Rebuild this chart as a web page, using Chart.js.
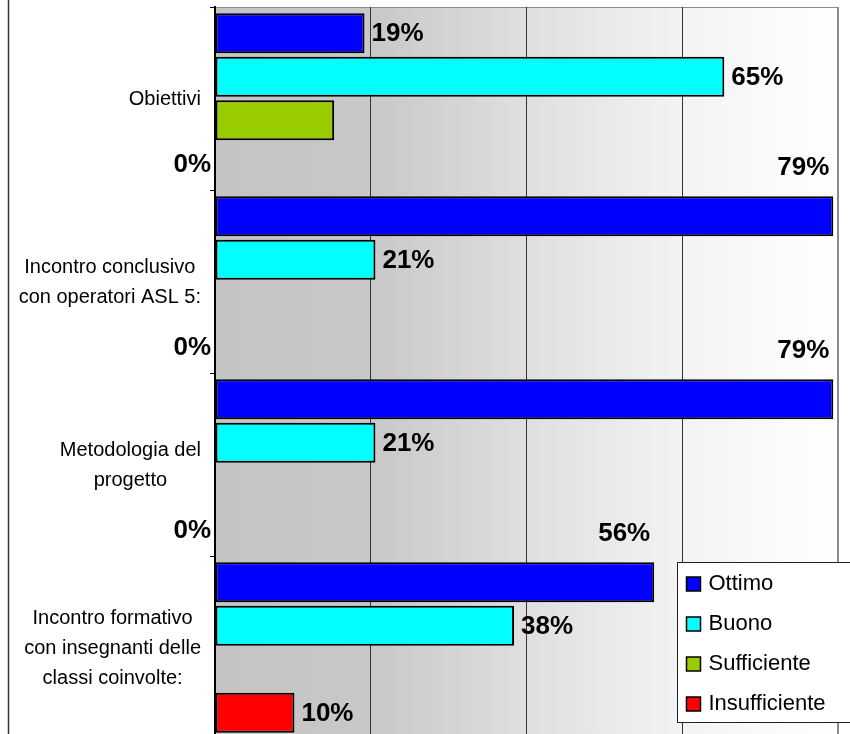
<!DOCTYPE html>
<html lang="it">
<head>
<meta charset="utf-8">
<title>Valutazione incontri</title>
<script src="https://cdn.jsdelivr.net/npm/chart.js@4.4.1/dist/chart.umd.min.js"></script>
<style>
  html, body { margin: 0; padding: 0; background: #fff; overflow: hidden; }
  #wrap { width: 850px; height: 745px; }
</style>
</head>
<body>
<div id="wrap"><canvas id="grafico" width="850" height="745"></canvas></div>
<script>
// categorie (dall'alto verso il basso), righe multiple per ogni etichetta
const categorie = [
  ['Obiettivi'],
  ['Incontro conclusivo', 'con operatori ASL 5:'],
  ['Metodologia del', 'progetto'],
  ['Incontro formativo', 'con insegnanti delle', 'classi coinvolte:']
]

// valori in percentuale (stimati dalla lunghezza delle barre, le etichette li arrotondano)
const ottimo = [19.2, 79.4, 79.4, 56.4]
const buono = [65.4, 20.6, 20.6, 38.4]
const sufficiente = [15.3, 0, 0, 0]
const insufficiente = [0, 0, 0, 10.2]

const asseMax = 80
const asseStep = 20

const FONT = '"Liberation Sans", Arial, sans-serif'
Chart.defaults.font.family = FONT

const fondoPlugin = {
  id: 'fondo',
  beforeDraw(chart) {
    const { ctx, chartArea: a } = chart
    const g = ctx.createLinearGradient(a.left, 0, a.right, 0)
    g.addColorStop(0, '#c4c4c4')
    g.addColorStop(0.25, '#c8c8c8')
    g.addColorStop(0.5, '#dfdfdf')
    g.addColorStop(0.75, '#f3f3f3')
    g.addColorStop(1, '#ffffff')
    ctx.save()
    ctx.fillStyle = g
    ctx.fillRect(a.left, a.top, a.right - a.left, a.bottom - a.top)
    ctx.strokeStyle = '#8c8c8c'
    ctx.lineWidth = 1
    ctx.beginPath()
    ctx.moveTo(a.left, a.top + 0.5)
    ctx.lineTo(a.right, a.top + 0.5)
    ctx.stroke()
    // bordo esterno del grafico a sinistra
    ctx.strokeStyle = '#333'
    ctx.lineWidth = 1.5
    ctx.beginPath()
    ctx.moveTo(8.5, 0)
    ctx.lineTo(8.5, chart.height)
    ctx.stroke()
    ctx.restore()
  }
}

const etichettePlugin = {
  id: 'etichette',
  afterDatasetsDraw(chart) {
    const { ctx, chartArea: a } = chart
    ctx.save()
    ctx.font = 'bold 26px ' + FONT
    ctx.fillStyle = '#000'
    ctx.textBaseline = 'middle'
    chart.data.datasets.forEach((ds, i) => {
      if (ds.label === 'Sufficiente') return
      chart.getDatasetMeta(i).data.forEach((bar, j) => {
        const v = ds.data[j]
        const txt = Math.round(v) + '%'
        if (v === 0) {
          ctx.textAlign = 'right'
          ctx.fillText(txt, a.left - 4, bar.y + 1)
        } else if (i === 0 && v > 50) {
          ctx.textAlign = 'right'
          ctx.fillText(txt, bar.x - 4, bar.y - 48)
        } else {
          ctx.textAlign = 'left'
          ctx.fillText(txt, bar.x + 7, bar.y + 1)
        }
      })
    })
    ctx.restore()
  }
}

const categoriePlugin = {
  id: 'categorie',
  afterDraw(chart) {
    const { ctx, chartArea: a } = chart
    const scalaY = chart.scales.y
    ctx.save()
    ctx.font = '20px ' + FONT
    ctx.fillStyle = '#000'
    ctx.textAlign = 'center'
    ctx.textBaseline = 'middle'
    chart.data.labels.forEach((righe, i) => {
      const larg = Math.max(...righe.map(r => ctx.measureText(r).width))
      const cx = a.left - 14 - larg / 2
      const cy = scalaY.getPixelForValue(i)
      righe.forEach((r, k) => {
        ctx.fillText(r, cx, cy + (k - (righe.length - 1) / 2) * 30 + 1)
      })
    })
    ctx.restore()
  }
}

const legendaPlugin = {
  id: 'legenda',
  afterDraw(chart) {
    const { ctx, chartArea: a } = chart
    const x0 = Math.round(a.right - 161) + 0.5
    const y0 = Math.round(a.bottom - 177) + 0.5
    ctx.save()
    ctx.fillStyle = '#fff'
    ctx.fillRect(x0, y0, 200, 160)
    ctx.strokeStyle = '#222'
    ctx.lineWidth = 1
    ctx.strokeRect(x0, y0, 200, 160)
    ctx.font = '22px ' + FONT
    ctx.textBaseline = 'middle'
    ctx.textAlign = 'left'
    chart.data.datasets.forEach((ds, i) => {
      const cy = y0 + 21 + i * 40
      ctx.fillStyle = ds.backgroundColor
      ctx.fillRect(x0 + 9, cy - 6.5, 14, 14)
      ctx.strokeStyle = '#000'
      ctx.lineWidth = 1.5
      ctx.strokeRect(x0 + 9, cy - 6.5, 14, 14)
      ctx.fillStyle = '#000'
      ctx.fillText(ds.label, x0 + 31, cy)
    })
    ctx.restore()
  }
}

const serie = [
  { label: 'Ottimo', data: ottimo, backgroundColor: '#0000ff' },
  { label: 'Buono', data: buono, backgroundColor: '#00ffff' },
  { label: 'Sufficiente', data: sufficiente, backgroundColor: '#99cc00' },
  { label: 'Insufficiente', data: insufficiente, backgroundColor: '#ff0000' }
]

new Chart(document.getElementById('grafico').getContext('2d'), {
  type: 'bar',
  data: {
    labels: categorie,
    datasets: serie.map(s => ({
      ...s,
      borderColor: '#000',
      borderWidth: 2,
      borderSkipped: false,
      barPercentage: 0.92,
      categoryPercentage: 0.95
    }))
  },
  options: {
    indexAxis: 'y',
    responsive: false,
    animation: false,
    layout: { padding: { top: 7, right: 12, bottom: 6, left: 0 } },
    plugins: {
      legend: { display: false },
      tooltip: { enabled: false }
    },
    scales: {
      x: {
        min: 0,
        max: asseMax,
        ticks: { display: false, stepSize: asseStep },
        grid: {
          drawTicks: false,
          color: c => (c.tick && c.tick.value === asseMax) ? '#8c8c8c' : '#333',
          lineWidth: c => (c.tick && c.tick.value === asseMax) ? 2 : 1
        },
        border: { display: false },
        afterFit: s => { s.height = 0 }
      },
      y: {
        ticks: { display: false },
        grid: { offset: true, drawOnChartArea: false, tickLength: 5, color: '#000' },
        border: { color: '#000', width: 2 },
        afterFit: s => { s.width = 215 }
      }
    }
  },
  plugins: [fondoPlugin, etichettePlugin, categoriePlugin, legendaPlugin]
})
</script>
</body>
</html>
